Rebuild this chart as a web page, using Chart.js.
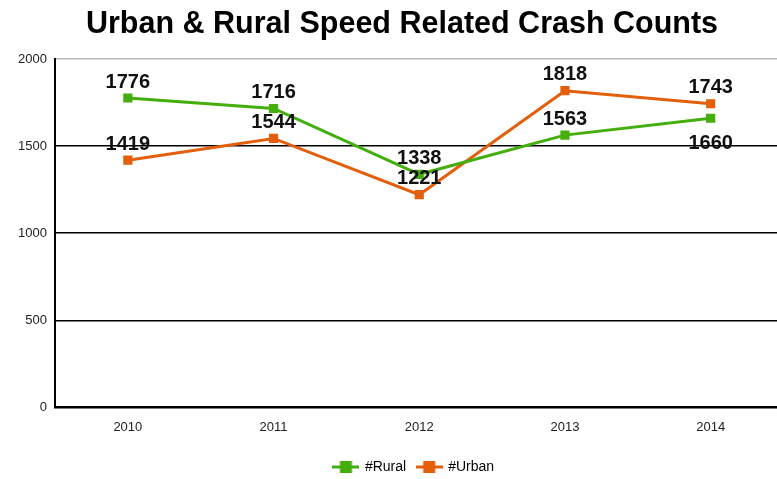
<!DOCTYPE html>
<html>
<head>
<meta charset="utf-8">
<script src="https://cdn.jsdelivr.net/npm/chart.js@4"></script>
<style>
  body { margin: 0; background: #fff; overflow: hidden; }
  #wrap { width: 790px; height: 479px; overflow: hidden; }
</style>
</head>
<body>
<div id="wrap"><canvas id="chart" width="790" height="479"></canvas></div>
<script>
// crash counts per year
var years = ['2010', '2011', '2012', '2013', '2014'];
var rural = [1776, 1716, 1338, 1563, 1660];
var urban = [1419, 1544, 1221, 1818, 1743];
var yTicks = [0, 500, 1000, 1500, 2000];

var GREEN = '#43ae0c';
var ORANGE = '#e35f0b';
var FONT = '"Liberation Sans", Arial, sans-serif';

// legend marker: short line with a square in the middle
function legendMarker(color) {
  var c = document.createElement('canvas');
  c.width = 27; c.height = 14;
  var g = c.getContext('2d');
  g.strokeStyle = color;
  g.lineWidth = 3;
  g.beginPath(); g.moveTo(0, 7); g.lineTo(27, 7); g.stroke();
  g.fillStyle = color;
  g.fillRect(7.5, 1, 12, 12);
  return c;
}

// value labels, drawn above each point unless listed here
var labelsBelow = { '0-4': true };

var valueLabels = {
  id: 'valueLabels',
  afterDatasetsDraw: function (chart) {
    var ctx = chart.ctx;
    ctx.save();
    ctx.font = 'bold 20px ' + FONT;
    ctx.fillStyle = '#111';
    ctx.textAlign = 'center';
    ctx.textBaseline = 'middle';
    chart.data.datasets.forEach(function (ds, di) {
      chart.getDatasetMeta(di).data.forEach(function (pt, i) {
        var below = labelsBelow[di + '-' + i];
        ctx.fillText(ds.data[i], pt.x, below ? pt.y + 25 : pt.y - 16);
      });
    });
    ctx.restore();
  }
};

var titlePlugin = {
  id: 'titleText',
  afterDraw: function (chart) {
    var ctx = chart.ctx;
    ctx.save();
    ctx.font = 'bold 30.5px ' + FONT;
    ctx.fillStyle = '#000';
    ctx.textAlign = 'center';
    ctx.textBaseline = 'middle';
    ctx.fillText('Urban & Rural Speed Related Crash Counts', 402, 25);
    ctx.restore();
  }
};

// legend sits a little right of the canvas centre and lower down
var legendShift = {
  id: 'legendShift',
  afterLayout: function (chart) {
    chart.legend.left += 19;
    chart.legend.right += 19;
    chart.legend.top += 5;
    chart.legend.bottom += 5;
  }
};

new Chart(document.getElementById('chart'), {
  type: 'line',
  data: {
    labels: years,
    datasets: [
      {
        label: '#Rural', data: rural,
        borderColor: GREEN, backgroundColor: GREEN,
        borderWidth: 3, pointStyle: 'rect', pointRadius: 6.5,
        pointBorderWidth: 0, tension: 0
      },
      {
        label: '#Urban', data: urban,
        borderColor: ORANGE, backgroundColor: ORANGE,
        borderWidth: 3, pointStyle: 'rect', pointRadius: 6.5,
        pointBorderWidth: 0, tension: 0
      }
    ]
  },
  options: {
    responsive: false,
    animation: false,
    layout: { padding: { top: 59, left: 0, right: 0, bottom: 0 } },
    plugins: {
      title: { display: false },
      tooltip: { enabled: false },
      legend: {
        position: 'bottom',
        labels: {
          usePointStyle: true,
          pointStyleWidth: 24,
          font: { family: FONT, size: 14 },
          color: '#222',
          padding: 11,
          generateLabels: function (chart) {
            return chart.data.datasets.map(function (ds, i) {
              return {
                text: ds.label,
                pointStyle: legendMarker(ds.borderColor),
                fillStyle: ds.borderColor,
                strokeStyle: ds.borderColor,
                lineWidth: 0,
                datasetIndex: i
              };
            });
          }
        }
      }
    },
    scales: {
      x: {
        offset: true,
        afterFit: function (axis) { axis.height -= 3; },
        grid: { display: false, drawTicks: false },
        border: { color: '#000', width: 2 },
        ticks: { font: { family: FONT, size: 13 }, color: '#222', padding: 12 }
      },
      y: {
        min: 0, max: 2000,
        afterBuildTicks: function (axis) {
          axis.ticks = yTicks.map(function (v) { return { value: v }; });
        },
        afterFit: function (axis) { axis.width = 55; },
        grid: {
          drawTicks: false,
          lineWidth: 1.5,
          color: function (c) { return c.tick && c.tick.value === 2000 ? '#b8b8b8' : '#000'; }
        },
        border: { color: '#000', width: 2 },
        ticks: {
          font: { family: FONT, size: 13 }, color: '#222', padding: 8,
          callback: function (v) { return String(v); }
        }
      }
    }
  },
  plugins: [valueLabels, titlePlugin, legendShift]
});
</script>
</body>
</html>
